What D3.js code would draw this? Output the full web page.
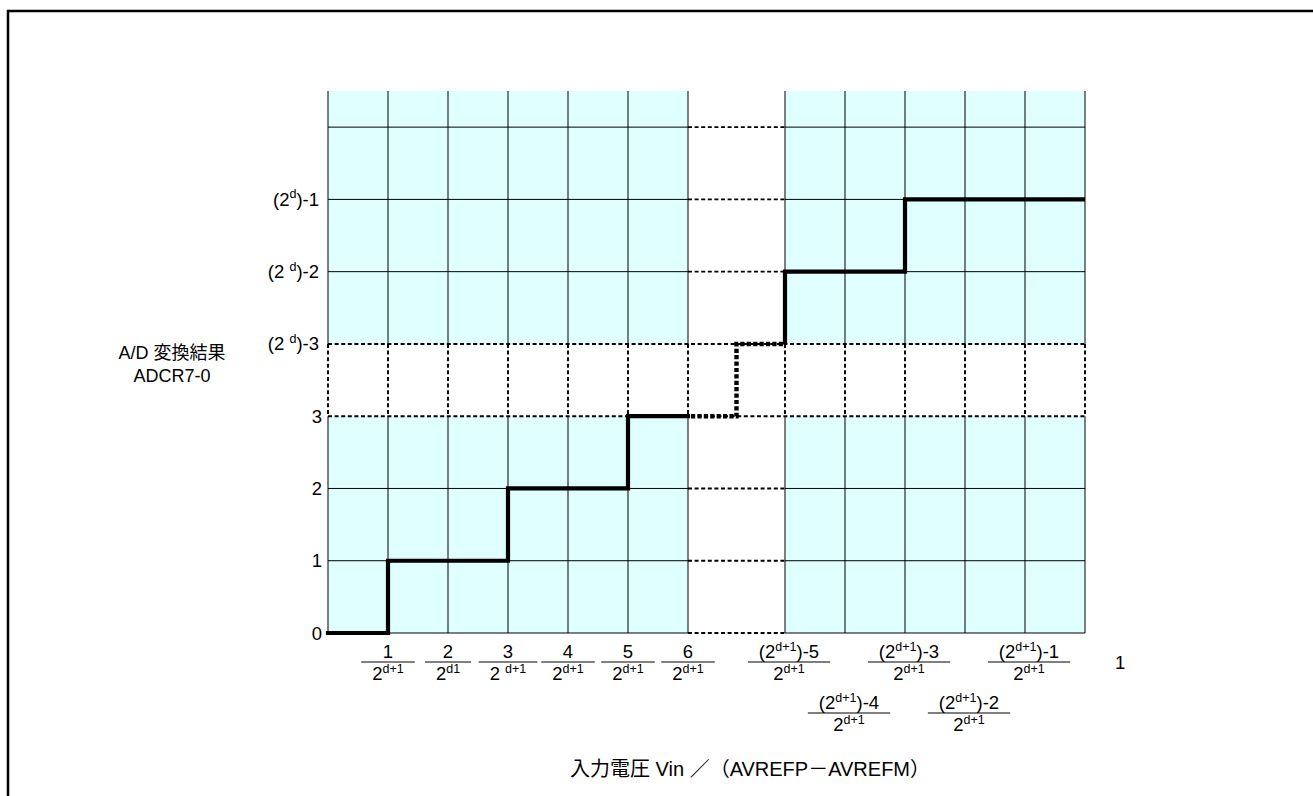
<!DOCTYPE html>
<html>
<head>
<meta charset="utf-8">
<script src="https://cdn.jsdelivr.net/npm/d3@7"></script>
<style>
  html, body { margin: 0; padding: 0; background: #fff; }
  svg { display: block; }
  text { font-family: "Liberation Sans", Arial, "Noto Sans CJK JP", sans-serif; fill: #000; }
</style>
</head>
<body>
<svg id="chart" width="1313" height="796"></svg>
<script>
// ---- data -------------------------------------------------------------
// lower output codes drawn on the vertical axis
const lowCodes = [0, 1, 2, 3];
// upper output codes written as (2^d) - m
const highOffsets = [3, 2, 1];
const highLabels = [
  [["(2 ", false], ["d", true], [")-3", false]],
  [["(2 ", false], ["d", true], [")-2", false]],
  [["(2", false], ["d", true], [")-1", false]]
];
// input steps n / 2^(d+1) at the low end of the range
const leftSteps = [1, 2, 3, 4, 5, 6];
const leftNumerators = ["1", "2", "3", "4", "5", "6"];
const leftDenominators = [
  [["2", false], ["d+1", true]],
  [["2", false], ["d1", true]],
  [["2 ", false], ["d+1", true]],
  [["2", false], ["d+1", true]],
  [["2", false], ["d+1", true]],
  [["2", false], ["d+1", true]]
];
// input steps (2^(d+1) - k) / 2^(d+1) at the high end of the range
const rightSteps = [5, 4, 3, 2, 1];
const rightRows = [0, 1, 0, 1, 0];
// conversion characteristic: [n, code] on the low side, [k, m] on the high side
const stairLow = [[0, 0], [1, 0], [1, 1], [3, 1], [3, 2], [5, 2], [5, 3], [6, 3]];
const stairHigh = [[5, 3], [5, 2], [3, 2], [3, 1], [0, 1]];
const yTitle = ["A/D 変換結果", "ADCR7-0"];
const xTitle = "入力電圧 Vin ／（AVREFP－AVREFM）";
const fullScaleLabel = "1";

// ---- layout -----------------------------------------------------------
const svg = d3.select("#chart");
const plotLeft = 328, colW = 60, gapW = 97;
const plotTop = 91, plotBottom = 633;
const fill = "#e0ffff";
const fs = 18.5, supFs = 12.5;

const xLeft = d3.scaleLinear().domain([0, 6]).range([plotLeft, plotLeft + 6 * colW]);
const xRight = d3.scaleLinear().domain([5, 0])
  .range([xLeft(6) + gapW, xLeft(6) + gapW + 5 * colW]);
const y = d3.scaleLinear().domain([0, 7.5]).range([plotBottom, plotTop]);
// upper codes (2^d)-m sit on levels 7-m, above the broken row
const yHigh = m => y(7 - m);

const leftCols = d3.range(0, 7);       // grid x positions, low block
const rightCols = d3.range(5, -1, -1); // grid x positions, high block
const gapMid = (xLeft(6) + xRight(5)) / 2;

// outer frame
svg.append("path")
  .attr("d", "M8,800 L8,11 L1320,11")
  .attr("fill", "none").attr("stroke", "#000").attr("stroke-width", 2.5);

// shaded blocks (skipping the broken row between code 3 and (2^d)-3)
const blocks = [[xLeft(0), xLeft(6)], [xRight(5), xRight(0)]];
const bands = [[y(7.5), y(4)], [y(3), y(0)]];
blocks.forEach(([x0, x1]) => bands.forEach(([y0, y1]) => {
  svg.append("rect").attr("x", x0).attr("y", y0)
    .attr("width", x1 - x0).attr("height", y1 - y0).attr("fill", fill);
}));

const grid = svg.append("g").attr("stroke", "#000");
const dash = "4,2.6", dashW = 1.9;

// solid horizontal grid lines inside the shaded blocks
const solidLevels = [0, 1, 2, 5, 6, 7];
solidLevels.forEach(l => blocks.forEach(([x0, x1]) => {
  grid.append("line").attr("x1", x0).attr("x2", x1)
    .attr("y1", y(l)).attr("y2", y(l)).attr("stroke-width", 1);
}));
// dashed lines across the gap column
solidLevels.forEach(l => {
  grid.append("line").attr("x1", xLeft(6)).attr("x2", xRight(5))
    .attr("y1", y(l)).attr("y2", y(l))
    .attr("stroke-width", dashW).attr("stroke-dasharray", dash);
});
// dashed horizontal borders of the broken row
[3, 4].forEach(l => {
  grid.append("line").attr("x1", xLeft(0)).attr("x2", xRight(0))
    .attr("y1", y(l)).attr("y2", y(l))
    .attr("stroke-width", dashW).attr("stroke-dasharray", dash);
});
// vertical grid lines
const colXs = leftCols.map(v => xLeft(v)).concat(rightCols.map(v => xRight(v)));
colXs.forEach(cx => {
  grid.append("line").attr("x1", cx).attr("x2", cx)
    .attr("y1", y(7.5)).attr("y2", y(4)).attr("stroke-width", 1);
  grid.append("line").attr("x1", cx).attr("x2", cx)
    .attr("y1", y(3)).attr("y2", y(0)).attr("stroke-width", 1);
  grid.append("line").attr("x1", cx).attr("x2", cx)
    .attr("y1", y(4)).attr("y2", y(3))
    .attr("stroke-width", dashW).attr("stroke-dasharray", dash);
});

// conversion characteristic
const line = d3.line();
svg.append("path")
  .attr("d", line(stairLow.map(([n, c]) => [xLeft(n), y(c)])))
  .attr("fill", "none").attr("stroke", "#000").attr("stroke-width", 4.2)
  .attr("stroke-linejoin", "miter").attr("stroke-linecap", "square");
svg.append("path")
  .attr("d", line(stairHigh.map(([k, m]) => [xRight(k), yHigh(m)])))
  .attr("fill", "none").attr("stroke", "#000").attr("stroke-width", 4.2)
  .attr("stroke-linejoin", "miter").attr("stroke-linecap", "butt");
// dotted bridge across the omitted range
svg.append("path")
  .attr("d", line([[xLeft(6) + 3, y(3)], [gapMid, y(3)], [gapMid, yHigh(3)], [xRight(5) - 2, yHigh(3)]]))
  .attr("fill", "none").attr("stroke", "#000").attr("stroke-width", 4.4)
  .attr("stroke-dasharray", "4.2,2.2");

// rich text helper: [[text, isSuperscript], ...]
function rich(sel, parts) {
  parts.forEach(([t, sup], i) => {
    const ts = sel.append("tspan").text(t);
    if (sup) {
      ts.attr("font-size", supFs).attr("dy", -7.5);
    } else if (i > 0 && parts[i - 1][1]) {
      ts.attr("dy", 7.5);
    }
  });
  return sel;
}

// vertical axis labels
lowCodes.forEach(c => {
  svg.append("text").attr("x", plotLeft - 6).attr("y", y(c) + 6.5)
    .attr("text-anchor", "end").attr("font-size", fs).text(c);
});
highOffsets.forEach((m, i) => {
  rich(svg.append("text").attr("x", plotLeft - 9).attr("y", yHigh(m) + 6.5)
    .attr("text-anchor", "end").attr("font-size", fs), highLabels[i]);
});

// fraction labels on the horizontal axis
function fraction(cx, baseY, numParts, denParts) {
  const g = svg.append("g");
  const num = rich(g.append("text").attr("x", cx).attr("y", baseY)
    .attr("text-anchor", "middle").attr("font-size", fs), numParts);
  const den = rich(g.append("text").attr("x", cx).attr("y", baseY + 22)
    .attr("text-anchor", "middle").attr("font-size", fs), denParts);
  const w = Math.max(num.node().getComputedTextLength(), den.node().getComputedTextLength()) + 22;
  g.append("line").attr("x1", cx - w / 2).attr("x2", cx + w / 2)
    .attr("y1", baseY + 4).attr("y2", baseY + 4).attr("stroke", "#000").attr("stroke-width", 1);
}
const row0 = plotBottom + 25, rowGap = 51;
leftSteps.forEach((n, i) => {
  fraction(xLeft(n), row0, [[leftNumerators[i], false]], leftDenominators[i]);
});
rightSteps.forEach((k, i) => {
  fraction(xRight(k) + 4, row0 + rightRows[i] * rowGap,
    [["(2", false], ["d+1", true], [")-" + k, false]],
    [["2", false], ["d+1", true]]);
});
svg.append("text").attr("x", xRight(0) + 30).attr("y", row0 + 11)
  .attr("font-size", fs).text(fullScaleLabel);

// axis titles
yTitle.forEach((t, i) => {
  svg.append("text").attr("x", 172).attr("y", 359 + i * 23)
    .attr("text-anchor", "middle").attr("font-size", 18).text(t);
});
svg.append("text").attr("x", xRight(5) - 35).attr("y", 776)
  .attr("text-anchor", "middle").attr("font-size", 20).text(xTitle);
</script>
</body>
</html>
